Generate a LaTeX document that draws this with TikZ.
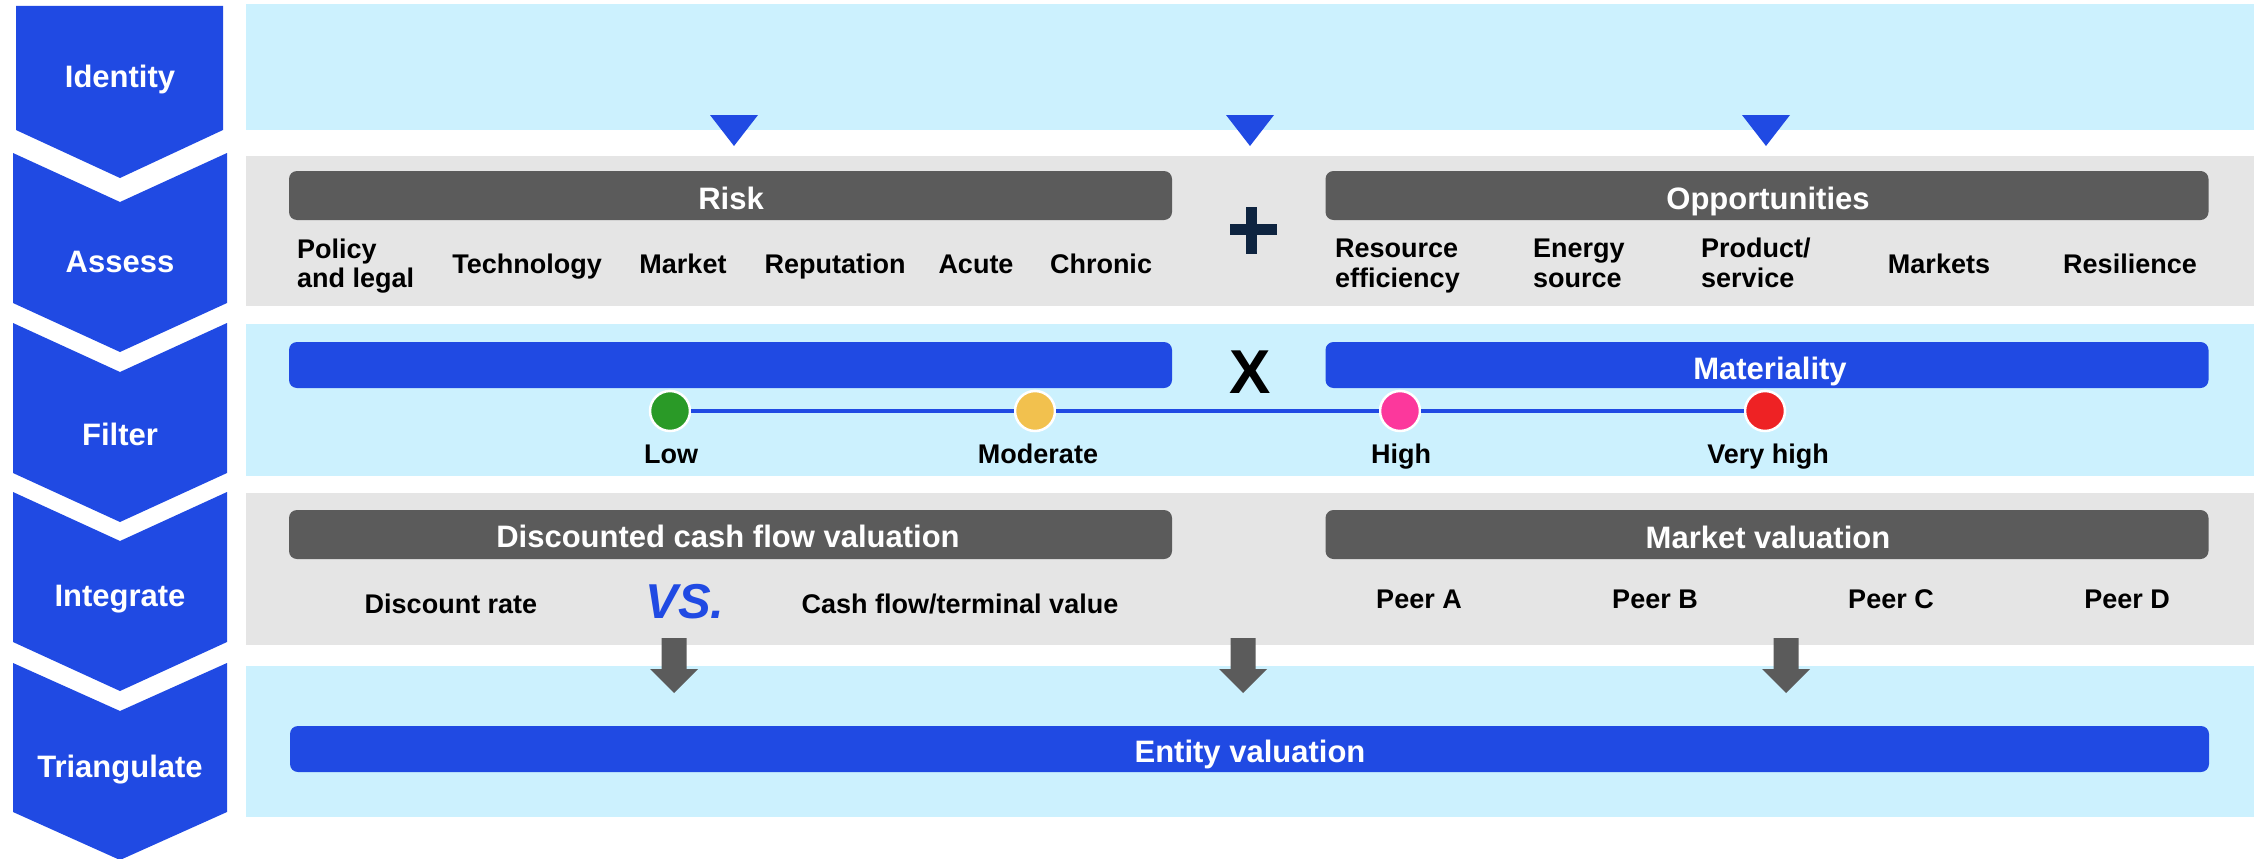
\documentclass[tikz,border=0pt]{standalone}
\usepackage{fontspec}
\setmainfont{Liberation Sans}
\definecolor{cblue}{RGB}{32,74,227}
\definecolor{lcyan}{RGB}{204,241,254}
\definecolor{lgrey}{RGB}{229,229,229}
\definecolor{dgrey}{RGB}{91,91,91}
\definecolor{navy}{RGB}{14,36,64}
\definecolor{cgreen}{RGB}{42,154,39}
\definecolor{cyellow}{RGB}{242,193,78}
\definecolor{cpink}{RGB}{252,56,156}
\definecolor{cred}{RGB}{238,34,36}
\begin{document}
\begin{tikzpicture}[x=1pt,y=-1pt,
  chev/.style={fill=cblue},
  steplabel/.style={text=white,font=\fontsize{31}{37}\selectfont\bfseries,anchor=base,inner sep=0pt},
  bartxt/.style={text=white,font=\fontsize{31}{37}\selectfont\bfseries,anchor=base,inner sep=0pt},
  item/.style={font=\fontsize{27}{32}\selectfont\bfseries,anchor=base,inner sep=0pt},
  itemw/.style={item,anchor=base west},
  greybar/.style={rectangle,rounded corners=8pt,fill=dgrey,draw=none,inner sep=0pt,minimum width=883pt,minimum height=49pt},
  bluebar/.style={rectangle,rounded corners=8pt,fill=cblue,draw=none,inner sep=0pt,minimum width=883pt,minimum height=46pt},
  dot/.style={circle,draw=white,line width=2.5pt,minimum size=40pt,inner sep=0pt},
  scaleline/.style={draw=cblue,line width=3.5pt}
]
\useasboundingbox (0,0) rectangle (2257,859);
% chevrons
\fill[chev] (16,6) -- (223,6) -- (223,130) -- (120,178) -- (16,130) -- cycle;
\fill[chev] (13,153) -- (120,202) -- (227,153) -- (227,303) -- (120,352) -- (13,303) -- cycle;
\fill[chev] (13,323) -- (120,372) -- (227,323) -- (227,473) -- (120,522) -- (13,473) -- cycle;
\fill[chev] (13,492) -- (120,541) -- (227,492) -- (227,642) -- (120,691) -- (13,642) -- cycle;
\fill[chev] (13,663) -- (120,711) -- (227,663) -- (227,812) -- (120,860) -- (13,812) -- cycle;
\node[steplabel] (sIdent) at (120,88) {Identity};
\node[steplabel] (sAssess) at (120,272) {Assess};
\node[steplabel] (sFilter) at (120,445) {Filter};
\node[steplabel] (sInteg) at (120,606) {Integrate};
\node[steplabel] (sTriang) at (120,777) {Triangulate};
% panels
\fill[lcyan] (246,4) rectangle (2254,130);
\fill[lgrey] (246,156) rectangle (2254,306);
\fill[lcyan] (246,324) rectangle (2254,476);
\fill[lgrey] (246,493) rectangle (2254,645);
\fill[lcyan] (246,666) rectangle (2254,817);
% triangles from identity
\foreach \cx in {734,1250,1766} {
  \fill[cblue] (\cx-24,115) -- (\cx+24,115) -- (\cx,146) -- cycle;
}
% Assess
\node[greybar] (riskbar) at (730.5,195.5) {};
\node[greybar] (oppbar) at (1767,195.5) {};
\node[bartxt] (risk) at (731,209) {Risk};
\node[bartxt] (opp) at (1768,209) {Opportunities};
\node[itemw] (pol1) at (297,258) {Policy};
\node[itemw] (pol2) at (297,287) {and legal};
\node[item] (tech) at (527,273) {Technology};
\node[item] (mkt) at (683,273) {Market};
\node[item] (rep) at (835,273) {Reputation};
\node[item] (acute) at (976,273) {Acute};
\node[item] (chron) at (1101,273) {Chronic};
\fill[navy] (1230,224) rectangle (1277,235);
\fill[navy] (1246,207) rectangle (1257,254);
\node[itemw] (res1) at (1335,257) {Resource};
\node[itemw] (res2) at (1335,287) {efficiency};
\node[itemw] (en1) at (1533,257) {Energy};
\node[itemw] (en2) at (1533,287) {source};
\node[itemw] (prod1) at (1701,257) {Product/};
\node[itemw] (prod2) at (1701,287) {service};
\node[item] (mkts) at (1939,273) {Markets};
\node[item] (resil) at (2130,273) {Resilience};
% Filter
\node[bluebar] (fbar) at (730.5,365) {};
\node[bluebar] (matbar) at (1767,365) {};
\node[bartxt] (mat) at (1770,379) {Materiality};
\node[font=\fontsize{62}{70}\selectfont\bfseries,anchor=base,inner sep=0pt] (times) at (1250,393) {X};
\node[dot,fill=cgreen] (dlow) at (670,411) {};
\node[dot,fill=cyellow] (dmod) at (1035,411) {};
\node[dot,fill=cpink] (dhigh) at (1400,411) {};
\node[dot,fill=cred] (dvhigh) at (1765,411) {};
\draw[scaleline] (dlow) -- (dmod);
\draw[scaleline] (dmod) -- (dhigh);
\draw[scaleline] (dhigh) -- (dvhigh);
\node[item] (llow) at (671,463) {Low};
\node[item] (lmod) at (1038,463) {Moderate};
\node[item] (lhigh) at (1401,463) {High};
\node[item] (lvhigh) at (1768,463) {Very high};
% Integrate
\node[greybar] (dcfbar) at (730.5,534.5) {};
\node[greybar] (mktbar) at (1767,534.5) {};
\node[bartxt] (dcf) at (728,547) {Discounted cash flow valuation};
\node[bartxt] (mktval) at (1768,548) {Market valuation};
\node[item] (disc) at (451,613) {Discount rate};
\node[font=\fontsize{49}{56}\selectfont\bfseries\itshape,text=cblue,anchor=base,inner sep=0pt] (vs) at (685,618) {VS.};
\node[item] (cash) at (960,613) {Cash flow/terminal value};
\node[item] (peerA) at (1419,608) {Peer A};
\node[item] (peerB) at (1655,608) {Peer B};
\node[item] (peerC) at (1891,608) {Peer C};
\node[item] (peerD) at (2127,608) {Peer D};
% arrows down
\foreach \cx in {674,1243,1786} {
  \fill[dgrey] (\cx-12.5,638) -- (\cx+12.5,638) -- (\cx+12.5,669) -- (\cx+24,669) -- (\cx,693) -- (\cx-24,669) -- (\cx-12.5,669) -- cycle;
}
% Triangulate
\node[rectangle,rounded corners=8pt,fill=cblue,inner sep=0pt,minimum width=1919pt,minimum height=46pt] (entbar) at (1249.5,749) {};
\node[bartxt] (ent) at (1250,762) {Entity valuation};
\end{tikzpicture}
\end{document}
